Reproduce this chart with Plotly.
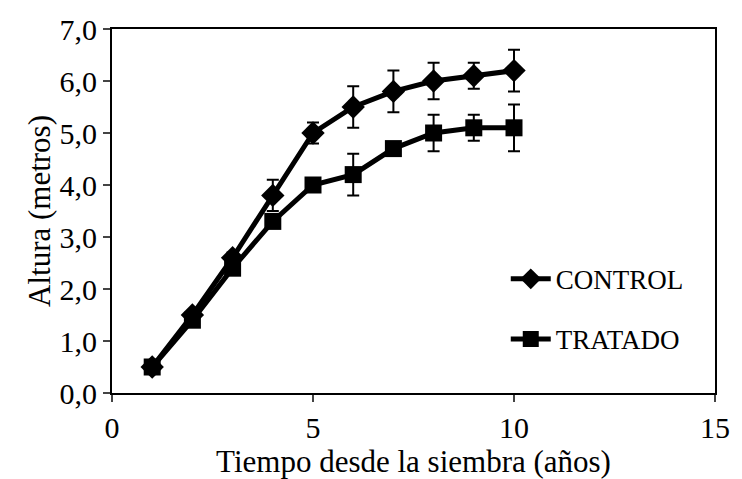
import plotly.graph_objects as go

years = [1, 2, 3, 4, 5, 6, 7, 8, 9, 10]
control = [0.5, 1.5, 2.6, 3.8, 5.0, 5.5, 5.8, 6.0, 6.1, 6.2]
control_err = [0.05, 0.05, 0.1, 0.3, 0.2, 0.4, 0.4, 0.35, 0.25, 0.4]
tratado = [0.5, 1.4, 2.4, 3.3, 4.0, 4.2, 4.7, 5.0, 5.1, 5.1]
tratado_err = [0.05, 0.05, 0.1, 0.1, 0.1, 0.4, 0.1, 0.35, 0.25, 0.45]

font = "Liberation Serif, Times New Roman, serif"

fig = go.Figure()
fig.add_trace(go.Scatter(
    x=years, y=control, name="CONTROL", mode="lines+markers", legendgroup="a",
    line=dict(color="black", width=5),
    marker=dict(symbol="diamond", size=18, color="black"),
    error_y=dict(type="data", array=control_err, visible=True, color="black", thickness=2, width=6),
))
fig.add_trace(go.Scatter(
    x=years, y=tratado, name="TRATADO", mode="lines+markers", legendgroup="b",
    line=dict(color="black", width=5),
    marker=dict(symbol="square", size=17, color="black"),
    error_y=dict(type="data", array=tratado_err, visible=True, color="black", thickness=2, width=6),
))

fig.update_layout(
    width=742, height=479,
    margin=dict(l=112, r=17, t=27, b=86),
    paper_bgcolor="white", plot_bgcolor="white",
    separators=",.",
    font=dict(family=font, size=30, color="black"),
    legend=dict(x=0.653, y=0.23, xanchor="left", yanchor="middle",
                font=dict(size=27, family=font), tracegroupgap=22,
                bgcolor="rgba(0,0,0,0)", itemwidth=40),
    showlegend=True,
)
fig.update_xaxes(range=[0, 15], tickvals=[0, 5, 10, 15], ticks="outside", ticklen=7,
                 tickwidth=2, showline=True, linewidth=2, linecolor="black", mirror=True,
                 showgrid=False, zeroline=False, tickfont=dict(size=30, family=font),
                 title=dict(text="Tiempo desde la siembra (años)", standoff=0,
                            font=dict(size=31, family=font)))
fig.update_yaxes(range=[0, 7], tickvals=[0, 1, 2, 3, 4, 5, 6, 7], tickformat=".1f",
                 ticks="outside", ticklen=7, tickwidth=2, showline=True, linewidth=2,
                 linecolor="black", mirror=True, showgrid=False, zeroline=False,
                 tickfont=dict(size=30, family=font),
                 title=dict(text="Altura (metros)", standoff=0,
                            font=dict(size=31, family=font)))

fig.write_html("out.html", config={"displayModeBar": False},
               post_script="document.body.style.margin='0px';")
